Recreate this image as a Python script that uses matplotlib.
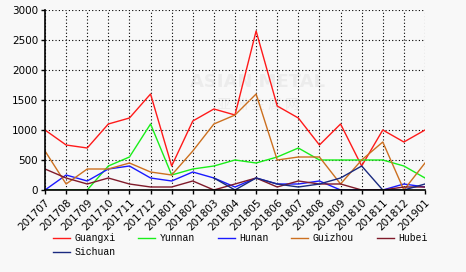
import matplotlib.pyplot as plt
import numpy as np

plt.rcParams['font.family'] = ['DejaVu Sans', 'Noto Sans CJK SC']

months = ['201707', '201708', '201709', '201710', '201711', '201712', '201801',
          '201802', '201803', '201804', '201805', '201806', '201807', '201808',
          '201809', '201810', '201811', '201812', '201901']

nan = np.nan
guangxi = [1000, 750, 700, 1100, 1200, 1600, 400, 1150, 1350, 1250, 2650, 1400,
           1200, 750, 1100, 400, 1000, 800, 1000]
yunnan = [0, 0, 0, 400, 550, 1100, 250, 350, 400, 500, 450, 550,
          700, 500, 500, 500, 500, 400, 200]
hunan = [0, 250, 150, 350, 400, 200, 150, 300, 200, 50, 200, 100,
         100, 150, 0, 0, 0, 100, 50]
guizhou = [650, 100, 350, 350, 450, 300, 250, 650, 1100, 1250, 1600, 500,
           550, 550, 100, 500, 800, 0, 450]
hubei = [350, 200, 100, 200, 100, 50, 50, 150, 0, 100, 200, 50,
         150, 100, 100, 0, 0, 50, 50]
sichuan = [nan, nan, nan, nan, nan, nan, nan, nan, 200, 0, 200, 100,
           50, 100, 200, 400, 0, 0, 100]

names = ['Guangxi', 'Yunnan', 'Hunan', 'Guizhou', 'Hubei', 'Sichuan']
series = [guangxi, yunnan, hunan, guizhou, hubei, sichuan]
colors = ['#ff1a1a', '#1aee1a', '#1a1aff', '#cc7020', '#801a2a', '#1a2a80']

bg = '#f8f8f8'
fig = plt.figure(figsize=(4.66, 2.72), dpi=100, facecolor=bg)
ax = fig.add_axes([45 / 466, 1 - 190 / 272, 380 / 466, 180 / 272], facecolor=bg)

# faint watermark
ax.text(0.56, 0.60, 'ASIAN METAL', transform=ax.transAxes, fontsize=13,
        fontweight='bold', color='#ececec', ha='center', va='center', zorder=0)
ax.text(0.56, 0.475, '亚 洲 金 属 网', transform=ax.transAxes, fontsize=10,
        color='#ececec', ha='center', va='center', zorder=0,
        family=['Noto Sans CJK SC'])

x = np.arange(len(months))
lines = []
for name, vals, c in zip(names, series, colors):
    ln, = ax.plot(x, vals, color=c, lw=1.0, label=name, zorder=3)
    lines.append(ln)

ax.set_xlim(0, len(months) - 1)
ax.set_ylim(0, 3000)
ax.set_yticks(np.arange(0, 3001, 500))
ax.set_xticks(x)
ax.set_xticklabels(months, rotation=45, ha='right', va='top',
                   rotation_mode='anchor', fontsize=7.5)
ax.tick_params(axis='y', labelsize=7.5, length=3, width=1, pad=2)
ax.tick_params(axis='x', length=3, width=1, pad=2)
ax.grid(True, color='black', linestyle=(0, (1, 2)), lw=0.8)
ax.set_axisbelow(True)
for s in ['top', 'right']:
    ax.spines[s].set_visible(False)
for s in ['left', 'bottom']:
    ax.spines[s].set_linewidth(1.2)
    ax.spines[s].set_zorder(5)

# legend fills column by column: order so rows read Guangxi..Hubei, then Sichuan
order = [0, 5, 1, 2, 3, 4]
fig.legend(handles=[lines[i] for i in order], loc='upper left',
           bbox_to_anchor=(53 / 466, 1 - 233 / 272),
           ncol=5, frameon=False, handlelength=1.75, handletextpad=0.45,
           columnspacing=2.35, labelspacing=0.45, borderaxespad=0, borderpad=0,
           prop={'family': 'Liberation Mono', 'size': 7})

fig.savefig('out.png', dpi=100, facecolor=bg)
